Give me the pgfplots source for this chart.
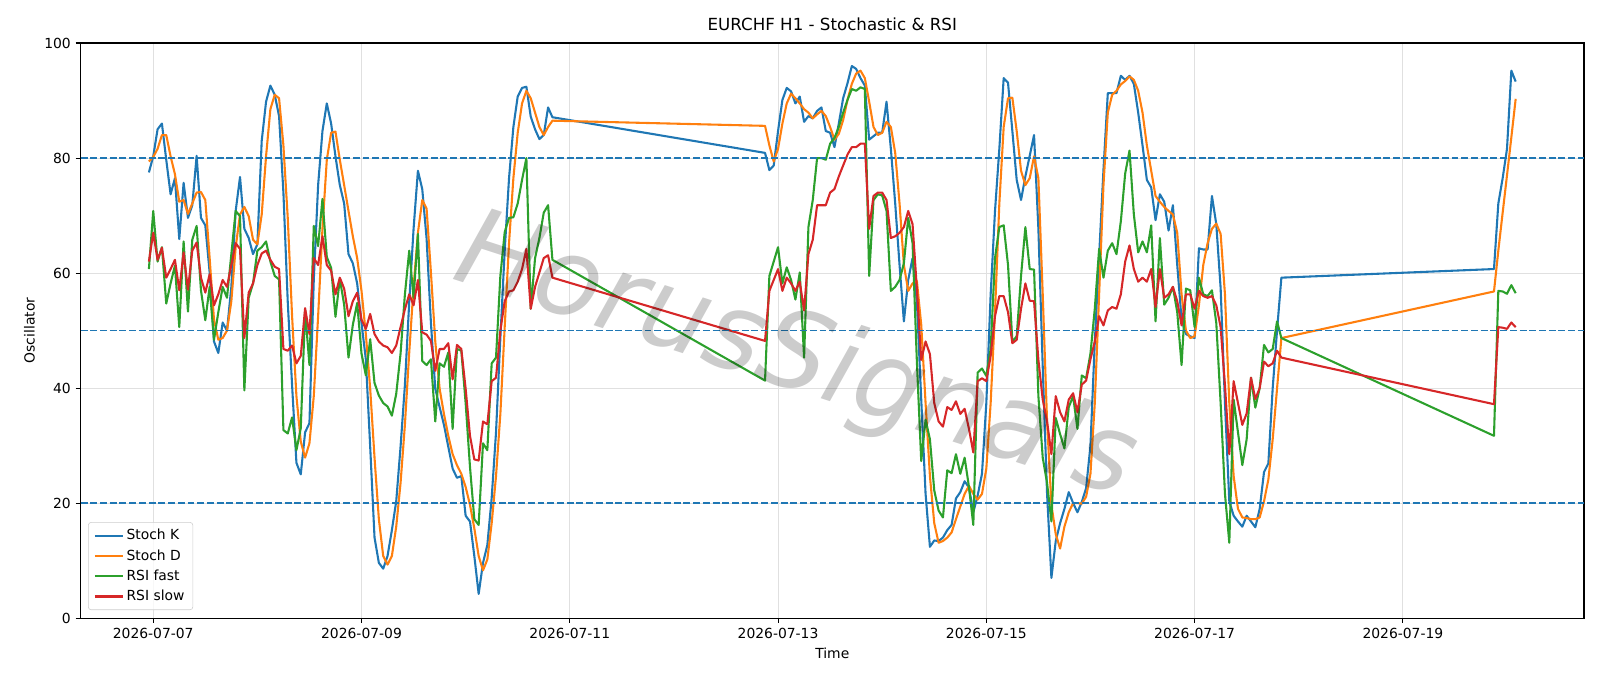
\documentclass[border=0pt]{standalone}
\usepackage{fontspec}
\setmainfont{DejaVu Sans}
\usepackage{pgfplots}
\usepackage{pgfplotstable}
\pgfplotsset{compat=1.18}
\definecolor{c0}{HTML}{1F77B4}
\definecolor{c1}{HTML}{FF7F0E}
\definecolor{c2}{HTML}{2CA02C}
\definecolor{c3}{HTML}{D62728}

\pgfplotstableread{
h K D F S
-1 77.5 79.4 60.7 62
0 80.3 80.2 70.8 67
1 85 81.6 62 62.3
2 86 84 64.5 64.4
3 79.7 84 54.7 59.2
4 73.7 80.3 58.2 60.7
5 76.5 77.2 61.3 62.3
6 65.9 72.4 50.6 57
7 75.7 72.7 65.5 63.6
8 69.6 70.3 53.3 57.1
9 71.8 72.1 65.8 63.9
10 80.4 74 68.2 65.3
11 69.6 74.1 57 59.2
12 68.3 72.7 51.8 56.6
13 60.1 62.6 57.6 59.8
14 48.1 51.9 48.4 54.4
15 46.1 48.4 53.2 56.3
16 51.4 48.7 57.6 58.8
17 50 50 55.7 57.6
18 57.6 55.1 63.3 61.4
19 70.8 64.5 70.8 65.2
20 76.7 70.2 69.9 64.2
21 67.7 71.5 39.6 48.7
22 66.1 69.9 55.7 56.6
23 63.3 65.8 58.2 58.2
24 65 65 63.9 61.4
25 83 70.2 64.5 63.4
26 89.8 80.3 65.5 63.9
27 92.6 88.5 62 62.3
28 91 91 59.5 61.1
29 87.3 90.4 58.9 60.7
30 74 82.2 32.7 46.8
31 55 69.6 32.1 46.5
32 40.5 52.5 34.9 47.4
33 27 38.6 29.2 44.3
34 25 30.7 33 45.6
35 32.3 27.9 53.5 53.9
36 33.9 30.4 44 49.4
37 58.8 38.6 68.2 62.6
38 75.3 52.5 64.7 61.4
39 84.7 67.7 72.9 66.4
40 89.5 79.7 62.8 61.4
41 86 84.4 60.9 60.4
42 80.3 84.6 52.4 56.3
43 75.3 79.7 59 59.2
44 72.1 75.3 54.5 57.3
45 63.3 70.8 45.3 52.5
46 61.7 66.4 51 55.1
47 58.2 62.6 54.8 56.6
48 51.3 56.9 46 51.9
49 45 49.4 42.2 50.3
50 29.8 39.9 48.5 52.9
51 14 27.9 40.9 49.4
52 9.6 17.2 38.7 48.1
53 8.6 10.8 37.4 47.4
54 10.8 9.3 36.8 47.1
55 15.3 10.8 35.2 46.1
56 20.3 15.9 39 47.4
57 29.8 23.5 46 50.6
58 40.5 33.6 56.3 53.7
59 55 46.2 63.9 56.3
60 67.7 57.6 55.7 54.4
61 77.8 67 66.8 58.8
62 74.6 72.7 44.7 49.7
63 66 71.2 44 49.3
64 51.3 60.1 45 48.2
65 39.9 48.1 34.2 43
66 36.7 39.9 44.3 46.8
67 33.6 35.5 43.7 46.8
68 29.8 31.7 46.2 47.8
69 26 28.5 32.9 41.5
70 24.4 26.6 46.8 47.5
71 24.7 25.1 46.5 46.8
72 17.8 22.8 37.4 39.9
73 16.8 19.7 26.3 31.7
74 10.8 15.6 17.2 27.6
75 4.2 10.8 16.2 27.4
76 9.6 8.3 30.4 34.2
77 12.7 10.2 29.2 33.7
78 20.9 16.5 44.3 41.2
79 32.3 24.7 45.3 41.8
80 48.7 35.5 59.5 50
81 63.9 50.6 67.1 55.1
82 76.5 65.2 69.6 56.8
83 85.4 76.5 69.7 57
84 90.7 84.4 72.1 58.5
85 92.2 89.5 76.2 60.7
86 92.4 91.7 80 64.2
87 87.2 90.4 53.8 53.8
88 85 87.9 62.6 57.6
89 83.3 85.4 66.1 60.1
90 84 84 70.5 62.6
91 88.8 85.4 71.8 63.1
92 87.1 86.5 62.3 59.2
141 80.9 85.6 41.3 48.2
142 77.9 82.2 59.5 56.9
143 78.7 79.4 62 58.8
144 84.7 81.6 64.5 60.7
145 90.1 86 58.2 56.9
146 92.2 89.5 61 59.2
147 91.6 91.2 58.8 58.2
148 89.5 90.4 55.4 56.9
149 90.7 89.5 60.1 58.5
150 86.3 88.5 45.3 53.5
151 87.3 87.9 68 63.3
152 86.9 86.9 72.7 65.8
153 88.2 87.6 80 71.8
154 88.8 88.2 80 71.8
155 84.7 87.3 79.7 71.8
156 84.4 85.4 82.5 74
157 81.9 83.2 83.5 74.6
158 86 84.2 85.4 76.8
159 90.4 86.6 87.9 78.7
160 93 90.1 90.1 80.6
161 96 92.9 92 81.9
162 95.5 94.7 91.7 81.9
163 93.9 95.2 92.3 82.5
164 92.6 93.9 92 82.5
165 83.2 89.8 59.5 67.7
166 83.8 85.4 72.7 73.4
167 84.4 84 73.7 74
168 84.4 84.4 73.5 74
169 89.8 86.3 70.8 72.7
170 81.6 85.4 56.9 66.1
171 72.1 80.9 57.6 66.4
172 61.4 72.1 58.8 67
173 51.6 61.4 61.7 68
174 58.8 56.9 69.6 70.8
175 62.6 58.2 65.2 68.5
176 55 58.6 44.5 57.2
177 38 51 27.3 44.9
178 21.6 37.4 34.5 48.1
179 12.4 24.7 31.1 45.9
180 13.5 16.5 22.2 37.4
181 13.4 13.1 18.7 34.2
182 14 13.4 17.5 33.3
183 15.3 14 25.7 36.7
184 16.2 14.9 25.2 36.2
185 20.8 17.2 28.5 37.7
186 21.9 19.4 25.1 35.5
187 23.8 21.6 27.9 36.4
188 22.7 23 22.8 32.9
189 18.4 21.6 16.2 28.8
190 21.3 20.6 42.7 41.2
191 25.1 21.6 43.4 41.7
192 37.4 26 42.1 41.2
193 56.3 37.4 46.8 45.6
194 70.8 53.2 62.6 52.5
195 81.6 72.1 68 56
196 93.9 85.4 68.3 56
197 93.1 90.4 61.4 53.2
198 84.7 90.5 48.1 47.8
199 76.2 84.7 49 48.4
200 72.7 77.8 59.5 53.8
201 76.8 75.3 68 58.2
202 80.4 76.5 60.7 55.2
203 84 80.3 60.6 55.1
204 67.7 76.5 38.6 44.9
205 43.7 56.3 27.9 38
206 21.6 34.2 23.5 34.2
207 7 19.7 16.8 28.5
208 13.4 14.6 34.8 38.6
209 16.5 12.1 32 35.8
210 19 15.9 29.5 34.2
211 21.9 18.4 36.7 38
212 20 20 38.6 39.1
213 18.4 20 32.9 35.8
214 20.2 19.9 42.2 40.6
215 22.6 21.1 41.7 41.3
216 30 25.1 46 45
217 48 37.4 53.8 48.1
218 63 56.3 64.2 52.5
219 78 75.3 59.2 50.9
220 91.3 87.9 63.9 53.5
221 91.3 91 65.2 54.1
222 91.3 91.7 63.3 53.8
223 94.3 92.8 69 56.3
224 93.6 93.4 77.3 62
225 94.3 94.2 81.3 64.8
226 92.9 93.6 70.2 60.7
227 87.9 91.7 63.6 58.5
228 82.2 87.9 65.5 59.2
229 76.2 82.2 63.6 58.5
230 74.9 77.8 68.3 60.7
231 69.2 73.4 51.6 54.1
232 73.7 72.4 66.1 60.7
233 72.4 71.5 54.5 55.7
234 67.4 70.8 55.7 56.3
235 71.8 70.2 57.6 57.6
236 61.4 67 53.2 55.1
237 51.9 56.3 44 50.9
238 49.4 50 57.3 56.3
239 49 48.7 57 56.3
240 48.7 49 50.6 53.8
241 64.3 54.4 59.2 56.9
242 64.1 61.4 56.3 56
243 64.1 65.2 56 55.7
244 73.4 67.7 57 56
245 68.5 68.6 51.3 54.4
246 57.4 66.8 37.4 50.6
247 37.4 56.3 21.6 40.5
248 20.3 37.4 13.1 28.5
249 17.8 24.7 38 41.2
250 16.8 19 32.3 37.4
251 15.9 17.5 26.6 33.6
252 17.8 17.4 31.1 35.6
253 16.8 17.2 41.8 41.8
254 15.8 17.2 36.6 38.1
255 19 17.5 40 40
256 25.4 20.3 47.5 44.6
257 26.9 24.1 46.2 43.8
258 40 31.1 46.8 44.3
259 50 39.9 51.6 46.5
260 59.2 48.7 48.7 45.3
309 60.7 56.8 31.7 37.2
310 72.1 63.9 56.9 50.6
311 76.5 70.5 56.8 50.5
312 81.6 77 56.4 50.3
313 95.2 83.6 57.9 51.4
314 93.3 90.3 56.5 50.6
}\data

\begin{document}
\begin{tikzpicture}
\begin{axis}[
  scale only axis,
  width=1082.4pt, height=414pt,
  xmin=-16.75, xmax=329.75, ymin=0, ymax=100,
  xtick={0,48,96,144,192,240,288},
  xticklabels={2026-07-07,2026-07-09,2026-07-11,2026-07-13,2026-07-15,2026-07-17,2026-07-19},
  ytick={0,20,40,60,80,100},
  xtick pos=lower, ytick pos=left,
  tick align=outside,
  major tick length=3.5pt,
  tick style={black, line width=0.8pt},
  axis line style={line width=0.8pt},
  grid=major,
  major grid style={black!12, line width=0.8pt},
  /pgf/number format/assume math mode=true,
  tick label style={font=\fontsize{10}{12}\selectfont},
  label style={font=\fontsize{10}{12}\selectfont},
  xlabel={Time}, ylabel={Oscillator},
  title={EURCHF H1 - Stochastic \& RSI},
  title style={font=\fontsize{12}{14}\selectfont, yshift=-1pt},
  legend style={at={(0.005,0.014)}, anchor=south west, draw=black!20,
    rounded corners=2pt, fill=white, fill opacity=0.8, text opacity=1,
    font=\fontsize{10}{12}\selectfont, row sep=1.5pt, inner xsep=4pt, inner ysep=3pt},
  legend cell align=left,
  legend image code/.code={\draw[#1] (0pt,0pt) -- (20pt,0pt);},
  every axis plot/.append style={line join=round},
]
\addplot[c0, line width=1.5pt] table[x=h, y=K] {\data};
\addlegendentry{Stoch K}
\addplot[c1, line width=1.5pt] table[x=h, y=D] {\data};
\addlegendentry{Stoch D}
\addplot[c2, line width=1.5pt] table[x=h, y=F] {\data};
\addlegendentry{RSI fast}
\addplot[c3, line width=1.5pt] table[x=h, y=S] {\data};
\addlegendentry{RSI slow}
\addplot[c0, line width=1.1pt, dash pattern=on 5pt off 2pt, forget plot] coordinates {(-16.75,80) (329.75,80)};
\addplot[c0, line width=1.1pt, dash pattern=on 5pt off 2pt, forget plot] coordinates {(-16.75,50) (329.75,50)};
\addplot[c0, line width=1.1pt, dash pattern=on 5pt off 2pt, forget plot] coordinates {(-16.75,20) (329.75,20)};
\node[rotate=-18, text=black, text opacity=0.2, font=\fontsize{78}{90}\selectfont\itshape] at (axis cs:148,45) {HorusSignals};
\end{axis}
\pgfresetboundingbox
\path (-58pt,-49pt) rectangle (1093.9pt,445pt);
\end{tikzpicture}
\end{document}
